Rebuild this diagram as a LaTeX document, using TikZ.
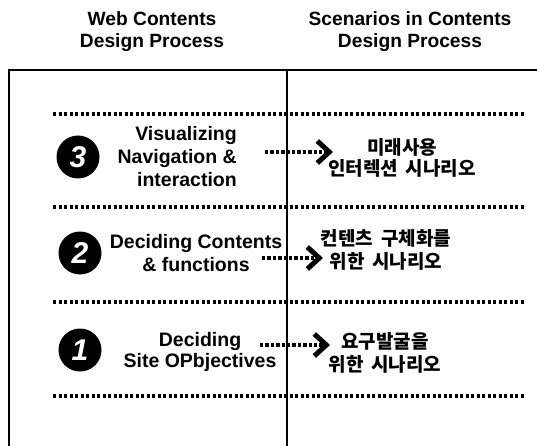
\documentclass[tikz,border=0pt]{standalone}
\usepackage{fontspec}
\setmainfont{Liberation Sans}
\newfontfamily\kofont{Noto Sans CJK KR}[WordSpace=1.8]
\usetikzlibrary{arrows.meta}
\begin{document}
\begin{tikzpicture}[x=1pt,y=-1pt,
  rule/.style={line width=1.8pt},
  midrule/.style={line width=1.3pt},
  sep/.style={line width=3.4pt, dash pattern=on 3.4pt off 2.1pt},
  title/.style={font=\bfseries\fontsize{19.2}{22}\selectfont, align=center, inner sep=0pt},
  proc/.style={font=\bfseries\fontsize{19.5}{23}\selectfont, inner sep=0pt},
  scen/.style={font=\kofont\bfseries\fontsize{19}{23}\selectfont, align=center, inner sep=0pt},
  badge/.style={circle, fill=black, text=white, minimum size=43pt, inner sep=0pt,
    font=\bfseries\itshape\fontsize{30}{30}\selectfont},
  flow/.style={line width=3.4pt, dash pattern=on 3.4pt off 2pt,
    -{Straight Barb[length=12pt,width=22pt,line width=5pt]}}
]
\useasboundingbox (0,0) rectangle (537,446);

% column headings
\node[title] (hl) at (152,32) {Web Contents\\Design Process};
\node[title] (hr) at (410,32) {Scenarios in Contents\\Design Process};

% table frame
\coordinate (tl) at (9,70);
\coordinate (tr) at (537,70);
\coordinate (bl) at (9,446);
\coordinate (mt) at (287,70);
\coordinate (mb) at (287,446);
\draw[rule] (bl) -- (tl) -- (tr);
\draw[midrule] (mt) -- (mb);

% dotted separators between the stages
\foreach \y in {114,207,302,396}
  \draw[sep] (53,\y) -- (524,\y);

% stage 3
\node[badge] (b3) at (78,157) {3};
\node[proc, align=right, anchor=east] (l3) at (237,157) {Visualizing\\Navigation \&\\interaction};
\node[scen, font=\kofont\bfseries\fontsize{19}{21}\selectfont] (r3) at (402,158) {미래사용\\인터렉션 시나리오};
\coordinate (s3) at (265,152);
\coordinate (e3) at (333,152);
\draw[flow] (s3) -- (e3);

% stage 2
\node[badge] (b2) at (80,253) {2};
\node[proc, align=center] (l2) at (196,253) {Deciding Contents\\\& functions};
\node[scen] (r2) at (386,250) {컨텐츠 구체화를\\위한 시나리오};
\coordinate (s2) at (262,258);
\coordinate (e2) at (323,258);
\draw[flow] (s2) -- (e2);

% stage 1
\node[badge] (b1) at (80,350) {1};
\node[proc, align=center, font=\bfseries\fontsize{19.5}{21}\selectfont] (l1) at (200,352) {Deciding\\Site OPbjectives};
\node[scen] (r1) at (385,353) {요구발굴을\\위한 시나리오};
\coordinate (s1) at (260,345);
\coordinate (e1) at (330,345);
\draw[flow] (s1) -- (e1);
\end{tikzpicture}
\end{document}
